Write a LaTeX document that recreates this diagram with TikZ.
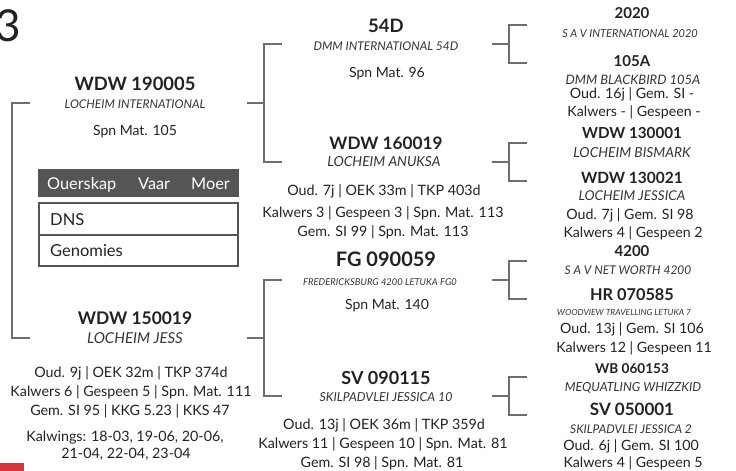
\documentclass[tikz,border=0pt]{standalone}
\usepackage{fontspec}
\setmainfont{Lato}
\definecolor{ink}{HTML}{222222}
\definecolor{muted}{HTML}{333333}
\definecolor{rule}{HTML}{6E6E6E}
\definecolor{bar}{HTML}{555555}
\definecolor{accent}{HTML}{D8343C}

\begin{document}
\begin{tikzpicture}[x=1pt,y=-1pt,
    every node/.style={inner sep=0pt, anchor=base, text=ink},
    reg/.style={font=\bfseries\fontsize{#1}{#1}\selectfont},
    title/.style={font=\itshape\fontsize{#1}{#1}\selectfont, text=muted},
    stat/.style={font=\fontsize{#1}{#1}\selectfont},
    link/.style={draw=rule, line width=1.3pt},
    row/.style={draw=bar, line width=2pt, minimum width=199pt, outer sep=0pt, anchor=north west}]
  \useasboundingbox (0,0) rectangle (736,471);

  % page number and tab
  \node[font=\fontsize{44}{44}\selectfont, anchor=base east] (pagenum) at (21,41) {3};
  \fill[accent] (0,463) rectangle (24,471);

  % registration numbers
  \foreach \n/\x/\y/\s/\t in {s/135/90/18.4/WDW 190005, d/135/324/17.4/WDW 150019,
      ss/386/32/18.5/54D, sd/386/149/17.2/WDW 160019, ds/386/266/20/FG 090059, dd/386/384/18/SV 090115,
      sss/632/19/15/2020, ssd/632/66/15/105A, sds/632/138/15.2/WDW 130001, sdd/632/183/15.5/WDW 130021,
      dss/632/256/15/4200, dsd/632/300/16.3/HR 070585, dds/632/373/13.6/WB 060153, ddd/632/415/17/SV 050001}
    \node[reg=\s] (\n) at (\x,\y) {\t};

  % names
  \foreach \n/\x/\y/\s/\t in {s/135/108/12/LOCHEIM INTERNATIONAL, d/135/343/15/LOCHEIM JESS,
      ss/386/50/12/DMM INTERNATIONAL 54D, sd/384/166/13.8/LOCHEIM ANUKSA,
      ds/380/285/9.4/FREDERICKSBURG 4200 LETUKA FG0, dd/386/401/12.4/SKILPADVLEI JESSICA 10,
      sss/630/37/11/S A V INTERNATIONAL 2020, ssd/633/84/13/DMM BLACKBIRD 105A,
      sds/632/157/13.8/LOCHEIM BISMARK, sdd/632/200/13.5/LOCHEIM JESSICA,
      dss/628/274/12/S A V NET WORTH 4200, dsd/624/315/8.5/WOODVIEW TRAVELLING LETUKA 7,
      dds/633/391/12.5/MEQUATLING WHIZZKID, ddd/631/433/12/SKILPADVLEI JESSICA 2}
    \node[title=\s] (\n-name) at (\x,\y) {\t};

  % performance lines
  \foreach \n/\x/\y/\s/\t in {
      s-l1/135/135/14/Spn Mat. 105,
      d-l1/131/377/14.3/Oud. 9j | OEK 32m | TKP 374d,
      d-l2/131/396/14.3/Kalwers 6 | Gespeen 5 | Spn. Mat. 111,
      d-l3/130/415/14.3/Gem. SI 95 | KKG 5.23 | KKS 47,
      d-l4/125/441/14.3/{Kalwings: 18-03, 19-06, 20-06,},
      d-l5/126/458/14.3/{21-04, 22-04, 23-04},
      ss-l1/387/77/14/Spn Mat. 96,
      sd-l1/384/195/14.3/Oud. 7j | OEK 33m | TKP 403d,
      sd-l2/383/217/14.3/Kalwers 3 | Gespeen 3 | Spn. Mat. 113,
      sd-l3/383/236/14.3/Gem. SI 99 | Spn. Mat. 113,
      ds-l1/387/309/14/Spn Mat. 140,
      dd-l1/384/429/14.3/Oud. 13j | OEK 36m | TKP 359d,
      dd-l2/383/448/14.3/Kalwers 11 | Gespeen 10 | Spn. Mat. 81,
      dd-l3/382/467/14.3/Gem. SI 98 | Spn. Mat. 81,
      ssd-l1/632/98/14.2/Oud. 16j | Gem. SI -,
      ssd-l2/634/116/14.2/Kalwers - | Gespeen -,
      sdd-l1/630/219/14.2/Oud. 7j | Gem. SI 98,
      sdd-l2/633/237/14.2/Kalwers 4 | Gespeen 2,
      dsd-l1/632/333/14.2/Oud. 13j | Gem. SI 106,
      dsd-l2/634/352/14.2/Kalwers 12 | Gespeen 11,
      ddd-l1/631/450/14.2/Oud. 6j | Gem. SI 100,
      ddd-l2/633/467/14.2/Kalwers 4 | Gespeen 5}
    \node[stat=\s] (\n) at (\x,\y) {\t};

  % brackets
  \coordinate (root) at (12,220);
  \coordinate (s-in) at (30,103);
  \coordinate (d-in) at (30,338);
  \draw[link] (s-in) -| (root) |- (d-in);
  \foreach \c/\a/\b/\y/\ya/\yb in {s/ss/sd/103/44/162, d/ds/dd/338/280/396} {
    \coordinate (\c-out) at (247,\y);
    \coordinate (\c-fork) at (264,\y);
    \coordinate (\a-in) at (282,\ya);
    \coordinate (\b-in) at (282,\yb);
    \draw[link] (\c-out) -- (\c-fork);
    \draw[link] (\a-in) -| (\c-fork) |- (\b-in);
  }
  \foreach \c/\y in {ss/44, sd/162, ds/280, dd/396} {
    \coordinate (\c-out) at (492,\y);
    \coordinate (\c-fork) at (509,\y);
    \coordinate (\c s-in) at (527,\y-19);
    \coordinate (\c d-in) at (527,\y+19);
    \draw[link] (\c-out) -- (\c-fork);
    \draw[link] (\c s-in) -| (\c-fork) |- (\c d-in);
  }

  % parentage table
  \node[fill=bar, minimum width=201pt, minimum height=28pt, anchor=north west] (tab-head) at (38,169) {};
  \foreach \n/\x/\t in {tab-parent/47/Ouerskap, tab-sire/138/Vaar, tab-dam/191/Moer}
    \node[stat=16.3, text=white, anchor=base west] (\n) at (\x,189) {\t};
  \node[row, minimum height=32pt] (tab-dns) at (39,203) {};
  \node[row, minimum height=31pt] (tab-gen) at (39,235) {};
  \node[stat=16.5, anchor=base west] (tab-dns-label) at (50,225) {DNS};
  \node[stat=16.5, anchor=base west] (tab-gen-label) at (50,256) {Genomies};
\end{tikzpicture}
\end{document}
